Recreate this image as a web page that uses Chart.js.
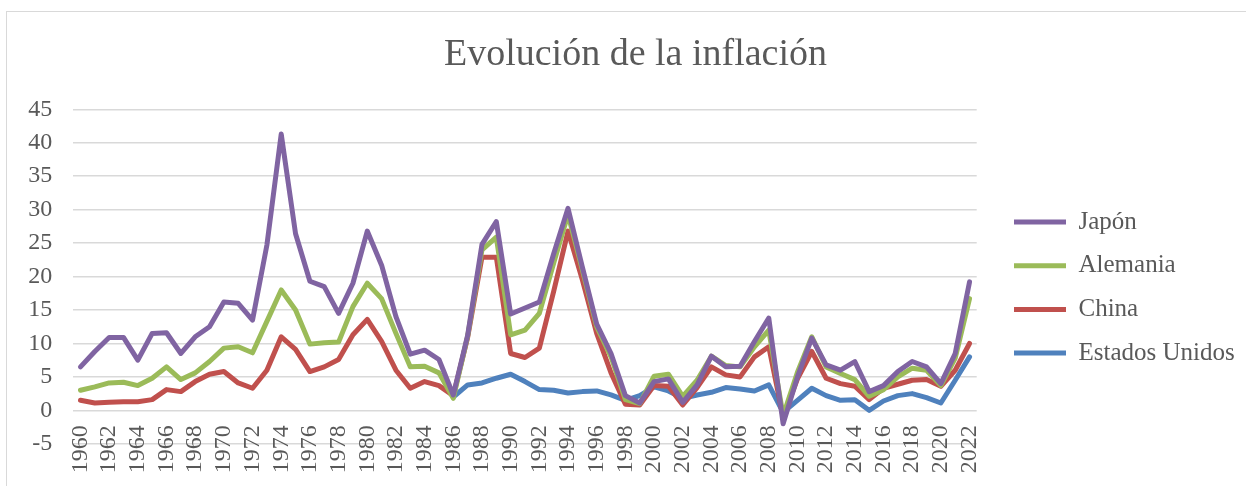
<!DOCTYPE html>
<html>
<head>
<meta charset="utf-8">
<script src="https://cdn.jsdelivr.net/npm/chart.js@4.4.1/dist/chart.umd.min.js"></script>
<style>
html,body{margin:0;padding:0;background:#fff;overflow:hidden;width:1246px;height:486px}
#frame{position:absolute;left:6px;top:11px;width:1400px;height:700px;border-left:1.5px solid #d9d9d9;border-top:1.5px solid #d9d9d9;box-sizing:border-box}
#wrap{position:absolute;left:0;top:0;width:1246px;height:486px}
</style>
</head>
<body>
<div id="frame"></div>
<div id="wrap"><canvas id="c" width="1246" height="486"></canvas></div>
<script>
const titleText = 'Evolución de la inflación';

const years = ['1960','1961','1962','1963','1964','1965','1966','1967','1968','1969',
  '1970','1971','1972','1973','1974','1975','1976','1977','1978','1979',
  '1980','1981','1982','1983','1984','1985','1986','1987','1988','1989',
  '1990','1991','1992','1993','1994','1995','1996','1997','1998','1999',
  '2000','2001','2002','2003','2004','2005','2006','2007','2008','2009',
  '2010','2011','2012','2013','2014','2015','2016','2017','2018','2019',
  '2020','2021','2022'];

const japon = [6.5, 8.8, 10.9, 10.9, 7.5, 11.5, 11.6, 8.5, 11.0, 12.5,
  16.2, 16.0, 13.5, 24.7, 41.3, 26.4, 19.3, 18.5, 14.5, 19.0,
  26.8, 21.7, 14.0, 8.4, 9.0, 7.6, 2.3, 11.2, 24.8, 28.2,
  14.4, 15.3, 16.2, 23.4, 30.2, 21.4, 12.9, 8.5, 2.2, 1.1,
  4.3, 4.7, 1.2, 3.8, 8.1, 6.5, 6.6, 10.3, 13.8, -2.0,
  5.0, 10.8, 6.8, 6.0, 7.3, 2.8, 3.7, 5.8, 7.3, 6.5,
  4.0, 8.5, 19.2];

const alemania = [3.0, 3.5, 4.1, 4.2, 3.7, 4.8, 6.5, 4.6, 5.6, 7.3,
  9.3, 9.5, 8.6, 13.3, 18.0, 15.0, 9.9, 10.1, 10.2, 15.5,
  19.0, 16.7, 11.5, 6.5, 6.6, 5.6, 1.8, 11.1, 24.0, 25.9,
  11.3, 12.0, 14.5, 22.0, 29.3, 21.0, 12.5, 8.0, 1.6, 1.0,
  5.1, 5.4, 2.1, 4.5, 8.1, 6.7, 6.5, 9.5, 12.0, -0.8,
  5.7, 11.0, 6.5, 5.5, 4.6, 2.1, 3.1, 5.0, 6.3, 6.0,
  3.7, 7.8, 16.7];

const china = [1.5, 1.1, 1.2, 1.3, 1.3, 1.6, 3.1, 2.8, 4.3, 5.4,
  5.8, 4.1, 3.3, 6.0, 11.0, 9.1, 5.8, 6.5, 7.6, 11.3,
  13.6, 10.3, 6.0, 3.3, 4.3, 3.7, 2.2, 10.9, 22.9, 22.9,
  8.5, 7.9, 9.3, 17.8, 26.8, 19.5, 11.5, 5.6, 0.9, 0.8,
  3.7, 3.6, 0.8, 3.4, 6.5, 5.3, 5.0, 8.0, 9.5, -1.0,
  4.7, 8.8, 4.8, 4.0, 3.6, 1.6, 3.3, 3.9, 4.5, 4.6,
  3.6, 6.0, 10.0];

const estadosUnidos = [null, null, null, null, null, null, null, null, null, null,
  null, null, null, null, null, null, null, null, null, null,
  null, null, null, null, null, null, 2.0, 3.8, 4.1, 4.8,
  5.4, 4.3, 3.1, 3.0, 2.6, 2.8, 2.9, 2.3, 1.5, 2.2,
  3.5, 2.9, 1.8, 2.3, 2.7, 3.4, 3.2, 2.9, 3.8, -0.3,
  1.5, 3.3, 2.2, 1.5, 1.6, 0.0, 1.4, 2.2, 2.5, 1.9,
  1.1, 4.5, 8.0];

const seriesNames = ['Japón', 'Alemania', 'China', 'Estados Unidos'];
const seriesColors = ['#8064A2', '#9BBB59', '#C0504D', '#4F81BD'];
const seriesData = [japon, alemania, china, estadosUnidos];

const yMin = -5, yMax = 45, yStep = 5;

Chart.defaults.font.family = "'Liberation Serif', 'Times New Roman', serif";
Chart.defaults.color = '#595959';

const LEG_DX = 18.6, LEG_DY = 11, TITLE_DX = 27.5;
const blockShift = {
  id: 'blockShift',
  afterLayout(chart) {
    const l = chart.legend;
    if (l) {
      l.left += LEG_DX; l.right += LEG_DX;
      l.top += LEG_DY; l.bottom += LEG_DY;
    }
    const t = chart.titleBlock;
    if (t) { t.left += TITLE_DX; t.right += TITLE_DX; }
  }
};

new Chart(document.getElementById('c'), {
  type: 'line',
  data: {
    labels: years,
    datasets: seriesNames.map((name, i) => ({
      label: name,
      data: seriesData[i],
      borderColor: seriesColors[i],
      backgroundColor: seriesColors[i],
      borderWidth: 5,
      pointRadius: 0,
      pointHoverRadius: 0,
      pointStyle: 'line',
      tension: 0,
      borderJoinStyle: 'round',
      borderCapStyle: 'round',
      spanGaps: false
    }))
  },
  options: {
    responsive: false,
    animation: false,
    events: [],
    layout: { padding: { left: 0, right: 30, top: 0, bottom: 42.2 } },
    plugins: {
      title: {
        display: true,
        text: titleText,
        color: '#595959',
        font: { size: 38, weight: 'normal' },
        padding: { top: 32.2, bottom: 31.5 }
      },
      legend: {
        display: true,
        position: 'right',
        fullSize: false,
        maxWidth: 239.3,
        labels: {
          usePointStyle: true,
          pointStyle: 'line',
          pointStyleWidth: 52,
          padding: 18.7,
          color: '#595959',
          font: { size: 25 }
        }
      },
      tooltip: { enabled: false }
    },
    scales: {
      x: {
        type: 'category',
        offset: true,
        position: { y: 0 },
        grid: { display: false, drawTicks: false },
        border: { display: false },
        ticks: {
          autoSkip: false,
          minRotation: 90,
          maxRotation: 90,
          padding: 15,
          color: '#595959',
          font: { size: 24 },
          callback(value, index) { return index % 2 === 0 ? this.getLabelForValue(value) : ''; }
        }
      },
      y: {
        min: yMin,
        max: yMax,
        grid: { color: '#d9d9d9', lineWidth: 1.5, drawTicks: false },
        border: { display: false },
        ticks: { stepSize: yStep, padding: 21, color: '#595959', font: { size: 24 } },
        afterFit(scale) { scale.width = 73.3; }
      }
    }
  },
  plugins: [blockShift]
});
</script>
</body>
</html>
